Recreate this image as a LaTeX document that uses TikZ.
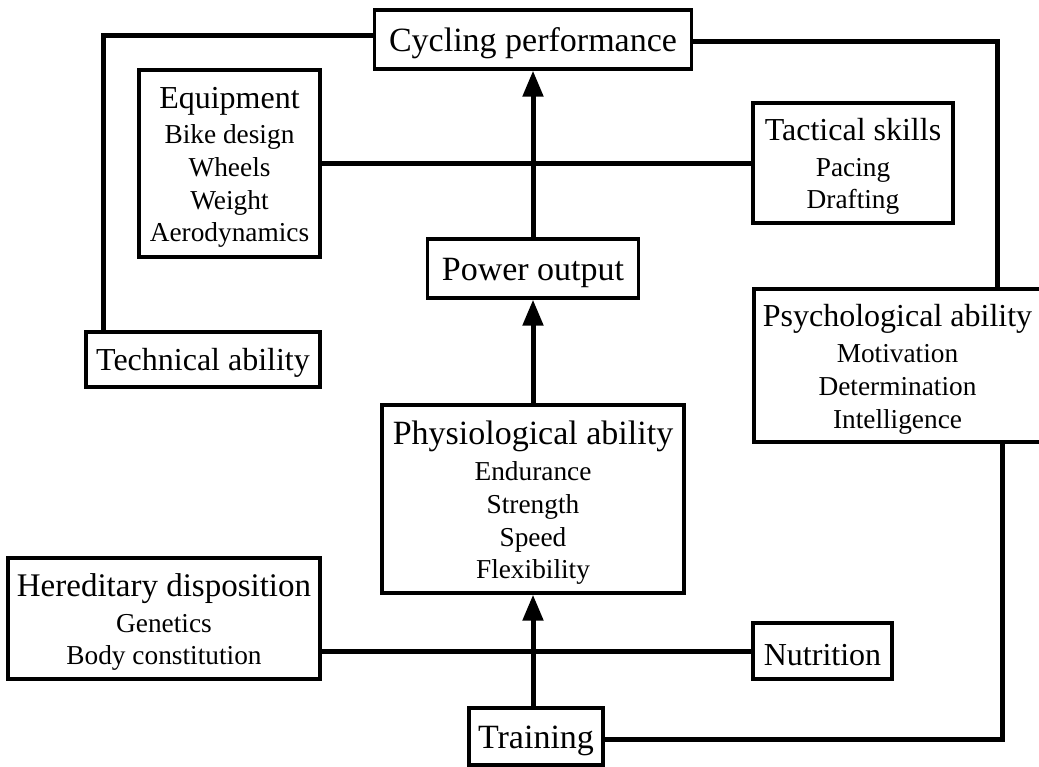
\documentclass[tikz,border=0pt]{standalone}
\usepackage{fontspec}
\setmainfont{Liberation Serif}
\usetikzlibrary{arrows.meta,calc}
\begin{document}
\begin{tikzpicture}[x=0.75pt,y=-0.75pt,
  box/.style={draw,line width=2.5pt,align=center,inner sep=0pt,
    font=\fontsize{20.5}{24.5}\selectfont},
  conn/.style={line width=3.75pt},
  arr/.style={conn,-{Triangle[length=19.5pt,width=15pt]}}]
\newcommand{\hd}[1]{{\fontsize{24}{26}\selectfont\rule{0pt}{22pt}#1}}
\newcommand{\bg}[1]{{\fontsize{25.5}{28}\selectfont\rule{0pt}{23.5pt}#1}}
\useasboundingbox (0,0) rectangle (1039,767);

\node[box,minimum width=237.75pt,minimum height=44.25pt] (cyc) at (533,39.5) {\bg{Cycling performance}};
\node[box,minimum width=135.75pt,minimum height=140.25pt] (equip) at (229.5,163.5)
  {\hd{Equipment}\\[2pt] Bike design\\ Wheels\\ Weight\\ Aerodynamics};
\node[box,minimum width=150pt,minimum height=90pt] (tact) at (853,163)
  {\hd{Tactical skills}\\[2pt] Pacing\\ Drafting};
\node[box,minimum width=158.25pt,minimum height=44.25pt] (power) at (533,268.5) {\bg{Power output}};
\node[box,minimum width=175.5pt,minimum height=41.25pt] (tech) at (203,359.5) {\hd{Technical ability}};
\node[box,minimum width=215.25pt,minimum height=114.75pt] (psych) at (897.5,365.5)
  {\hd{Psychological ability}\\[3pt] Motivation\\ Determination\\ Intelligence};
\node[box,minimum width=226.5pt,minimum height=141pt] (phys) at (533,499)
  {\bg{Physiological ability}\\[2.5pt] Endurance\\ Strength\\ Speed\\ Flexibility};
\node[box,minimum width=234pt,minimum height=90.75pt] (hered) at (164,618.5)
  {{\fontsize{24.75}{27}\selectfont\rule{0pt}{22.5pt}Hereditary disposition}\\[2.5pt] Genetics\\ Body constitution};
\node[box,minimum width=104.25pt,minimum height=42pt] (nutr) at (822.5,651) {\hd{Nutrition}};
\node[box,minimum width=100.5pt,minimum height=42.75pt] (train) at (536,736.5) {\bg{Training}};

\coordinate (tl) at ($(tech.north west)+(19,0)$);
\coordinate (pr) at ($(psych.north west)+(245,0)$);
\coordinate (pb) at ($(psych.south west)+(250,0)$);

\draw[conn] ($(cyc.west)+(0,-3.5)$) -| (tl);
\draw[conn] ($(cyc.east)+(0,2.5)$) -| (pr);
\draw[conn] (equip.east) -- (equip.east -| tact.west);
\draw[conn] ($(tact.south)+(9,0)$) -- ($(tact.south)+(9,0)$ |- psych.north);
\draw[conn] ($(tech.east)+(0,2.5)$) -- ($(tech.east)+(0,2.5)$ -| psych.west);
\draw[conn] (nutr.west -| hered.east) -- (nutr.west);
\draw[conn] ($(train.east)+(0,2.5)$) -| (pb);
\draw[arr] (power.north) -- (cyc.south);
\draw[arr] (phys.north) -- (power.south);
\draw[arr] (train.north -| phys.south) -- (phys.south);
\end{tikzpicture}
\end{document}
